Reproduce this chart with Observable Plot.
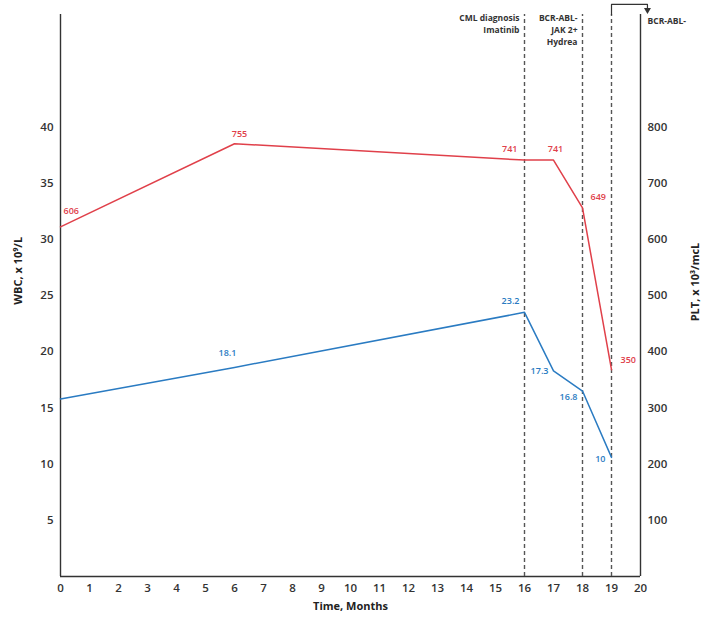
<!DOCTYPE html>
<html>
<head>
<meta charset="utf-8">
<script src="https://cdn.jsdelivr.net/npm/d3@7"></script>
<script src="https://cdn.jsdelivr.net/npm/@observablehq/plot@0.6"></script>
<style>
  body { margin: 0; background: #fff; }
  svg { font-family: "Open Sans", sans-serif; }
</style>
</head>
<body>
<div id="chart"></div>
<script>
// ---- data ----
const months = [0, 6, 16, 17, 18, 19];
const pltValues = [622, 770, 741, 741, 656, 368];          // PLT x10^3/mcL (line positions)
const pltLabels = ["606", "755", "741", "741", "649", "350"];
const wbcValues = [15.8, 18.6, 23.5, 18.3, 16.5, 10.6];     // WBC x10^9/L (line positions)
const wbcLabels = ["", "18.1", "23.2", "17.3", "16.8", "10"];
const eventMonths = [16, 18, 19];
const eventTexts = ["CML diagnosis\nImatinib", "BCR-ABL-\nJAK 2+\nHydrea"];
const xTicks = d3.range(0, 21);
const wbcTicks = [5, 10, 15, 20, 25, 30, 35, 40];
const pltPerWbc = 20; // right axis = left axis x 20
const finalText = "BCR-ABL-";
const xTitle = "Time, Months";
const yLeftTitle = "WBC, x 10⁹/L";
const yRightTitle = "PLT, x 10³/mcL";

const red = "#e0404a";
const blue = "#2a7bc2";
const ink = "#333";

const redData = months.map((m, i) => ({m, v: pltValues[i] / pltPerWbc, label: pltLabels[i]}));
const blueData = months.map((m, i) => ({m, v: wbcValues[i], label: wbcLabels[i]}));

const lblFont = {fontSize: 9, fontWeight: 600};
function lab(data, i, color, opts) {
  return Plot.text([data[i]], {x: "m", y: "v", text: "label", fill: color, ...lblFont, ...opts});
}
const titleFont = {fontSize: 11, fontWeight: 700, fill: "#222"};

const chart = Plot.plot({
  width: 705,
  height: 619,
  marginLeft: 60,
  marginRight: 65,
  marginTop: 14,
  marginBottom: 43,
  style: {fontFamily: "Open Sans, sans-serif", background: "#fff"},
  x: {domain: [0, 20], axis: null},
  y: {domain: [0, 50], axis: null},
  marks: [
    // axes
    Plot.axisX(xTicks, {tickSize: 0, tickPadding: 7, fontSize: 11.5, fontWeight: 600, fill: ink, label: null, tickFormat: d => d}),
    Plot.axisY(wbcTicks, {anchor: "left", tickSize: 0, tickPadding: 7, fontSize: 11.5, fontWeight: 600, fill: ink, label: null}),
    Plot.axisY(wbcTicks, {anchor: "right", tickSize: 0, tickPadding: 7, fontSize: 11.5, fontWeight: 600, fill: ink, label: null, tickFormat: d => d * pltPerWbc}),
    Plot.ruleX([0, 20], {y1: 0, y2: 50, stroke: ink, strokeWidth: 1.4}),
    Plot.ruleY([0], {x1: 0, x2: 20, stroke: ink, strokeWidth: 1.4}),
    // event dashed lines
    Plot.ruleX(eventMonths, {y1: 0, y2: 50, stroke: "#555", strokeWidth: 1.4, strokeDasharray: "4,3"}),
    // bracket arrow to BCR-ABL-
    Plot.line([{m: 19, v: 50}, {m: 19, v: 50.9}, {m: 20.24, v: 50.9}, {m: 20.24, v: 50.45}], {x: "m", y: "v", stroke: ink, strokeWidth: 1.2, clip: false}),
    Plot.dot([{m: 20.24, v: 50.4}], {x: "m", y: "v", symbol: "triangle", r: 2.6, rotate: 180, fill: ink, stroke: null}),
    Plot.text([finalText], {frameAnchor: "top-right", dx: 7, dy: 3, textAnchor: "start", fontSize: 8.5, fontWeight: 700, fill: ink}),
    // event annotations
    Plot.text([{m: eventMonths[0], t: eventTexts[0]}], {x: "m", frameAnchor: "top", text: "t", textAnchor: "end", lineAnchor: "top", dx: -5, dy: -2, lineHeight: 1.4, fontSize: 8.5, fontWeight: 700, fill: ink}),
    Plot.text([{m: eventMonths[1], t: eventTexts[1]}], {x: "m", frameAnchor: "top", text: "t", textAnchor: "end", lineAnchor: "top", dx: -5, dy: -2, lineHeight: 1.4, fontSize: 8.5, fontWeight: 700, fill: ink}),
    // series lines
    Plot.line(redData, {x: "m", y: "v", stroke: red, strokeWidth: 1.5}),
    Plot.line(blueData, {x: "m", y: "v", stroke: blue, strokeWidth: 1.5}),
    // value labels
    lab(redData, 0, red, {textAnchor: "start", dx: 3, dy: -16}),
    lab(redData, 1, red, {dx: 5, dy: -10}),
    lab(redData, 2, red, {textAnchor: "end", dx: -7, dy: -11}),
    lab(redData, 3, red, {dx: 2, dy: -11}),
    lab(redData, 4, red, {textAnchor: "start", dx: 8, dy: -11}),
    lab(redData, 5, red, {textAnchor: "start", dx: 9, dy: -10}),
    lab(blueData, 1, blue, {dx: -7, dy: -14}),
    lab(blueData, 2, blue, {textAnchor: "end", dx: -5, dy: -11}),
    lab(blueData, 3, blue, {textAnchor: "end", dx: -5, dy: 0}),
    lab(blueData, 4, blue, {textAnchor: "end", dx: -5, dy: 6}),
    lab(blueData, 5, blue, {textAnchor: "end", dx: -6, dy: 2}),
    // axis titles
    Plot.text([xTitle], {frameAnchor: "bottom", dy: 33, ...titleFont}),
    Plot.text([yLeftTitle], {x: () => -1.45, y: () => 27.2, rotate: -90, clip: false, ...titleFont}),
    Plot.text([yRightTitle], {x: () => 21.9, y: () => 26.2, rotate: -90, clip: false, ...titleFont})
  ]
});
document.getElementById("chart").appendChild(chart);
</script>
</body>
</html>
